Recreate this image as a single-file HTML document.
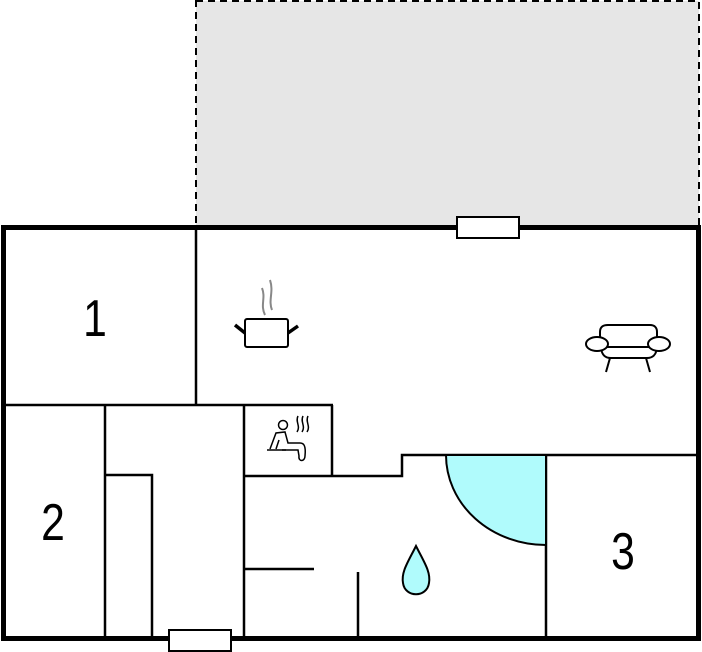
<!DOCTYPE html>
<html><head><meta charset="utf-8"><style>html,body{margin:0;padding:0;background:#fff}svg{display:block}</style></head><body>
<svg width="702" height="652" viewBox="0 0 702 652" xmlns="http://www.w3.org/2000/svg">
<rect x="196" y="1" width="503" height="226" fill="#e6e6e6" stroke="#000" stroke-width="2" stroke-dasharray="7,5"/>
<rect x="3.5" y="227.5" width="695" height="411" fill="#fff" stroke="#000" stroke-width="5"/>
<g stroke="#000" stroke-width="2.5" fill="none">
<line x1="196" y1="229" x2="196" y2="405"/>
<line x1="5" y1="405" x2="333" y2="405"/>
<line x1="105" y1="405" x2="105" y2="637"/>
<polyline points="105,475 152,475 152,637"/>
<line x1="244" y1="405" x2="244" y2="637"/>
<line x1="332" y1="405" x2="332" y2="476"/>
<polyline points="244,476 402,476 402,455 697,455"/>
<line x1="546" y1="455" x2="546" y2="637"/>
<line x1="244" y1="569" x2="314" y2="569"/>
<line x1="358" y1="572" x2="358" y2="637"/>
</g>
<path d="M446,455 A100,90 0 0 0 546,545 L546,455 Z" fill="#b0fbfc" stroke="#000" stroke-width="2"/>
<path d="M416,546 C408,562 401,572 403,583 C405,598 427,598 429,583 C431,572 424,562 416,546 Z" fill="#b0fbfc" stroke="#000" stroke-width="2"/>
<rect x="457" y="217" width="62" height="21" fill="#fff" stroke="#000" stroke-width="2"/>
<rect x="169" y="630" width="62" height="21" fill="#fff" stroke="#000" stroke-width="2"/>
<g stroke="#888" stroke-width="2" fill="none">
<path d="M265,315 C260,305 266,298 262,288"/><path d="M272,310 C268,300 274,292 270,280"/>
</g>
<rect x="245" y="319" width="43" height="28" rx="2" fill="#fff" stroke="#000" stroke-width="2"/>
<line x1="235" y1="325" x2="245" y2="333" stroke="#000" stroke-width="3.5"/>
<line x1="298" y1="326" x2="288" y2="333" stroke="#000" stroke-width="3.5"/>
<g stroke="#000" stroke-width="1.5" fill="none">
<circle cx="283" cy="425" r="4.5"/>
<path d="M270,449 L276,433 L285,432 L288,443 L300,443 C304,443 306,446 305,456 C305,462 298,462 299,456 L298,450 L282,450 M276,449 L279,440"/>
<line x1="267" y1="450" x2="286" y2="450"/>
<path d="M298,416 C295,422 301,426 297,432"/><path d="M303,416 C300,422 306,426 302,432"/><path d="M308,416 C305,422 311,426 307,432"/>
</g>
<g stroke="#000" stroke-width="2" fill="#fff">
<path d="M600,342 L600,332 C600,326 604,325 608,325 L650,325 C655,325 657,328 657,332 L657,342"/>
<path d="M601,348 C602,356 606,358 611,358 L647,358 C653,358 656,355 657,348"/>
<line x1="603" y1="347" x2="656" y2="347"/>
<ellipse cx="597" cy="344" rx="11" ry="7"/>
<ellipse cx="659" cy="344" rx="11" ry="7"/>
<line x1="610" y1="358" x2="606" y2="372"/><line x1="646" y1="358" x2="650" y2="372"/>
</g>
<g font-family="Liberation Sans, sans-serif" font-size="52" text-anchor="middle" fill="#000">
<text transform="translate(95,336) scale(0.82,1)">1</text>
<text transform="translate(53,540) scale(0.82,1)">2</text>
<text transform="translate(623,569) scale(0.82,1)">3</text>
</g>
</svg>
</body></html>
